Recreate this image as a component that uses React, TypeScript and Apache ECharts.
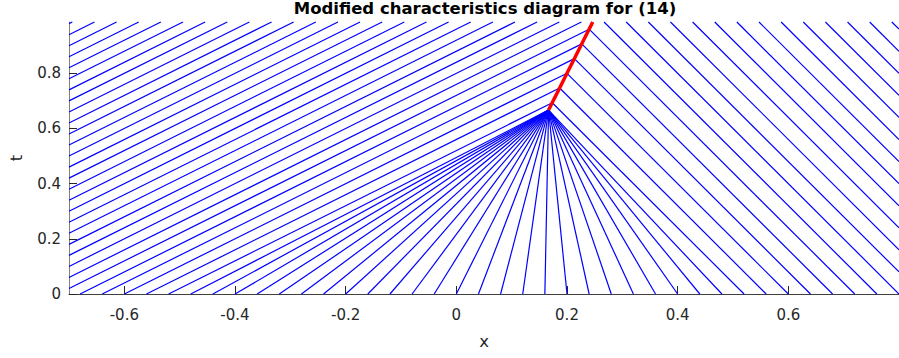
import React, { useEffect, useRef } from "react";
import * as echarts from "echarts";

// Axis ticks
const xTicks = [-0.6, -0.4, -0.2, 0, 0.2, 0.4, 0.6];
const tTicks = [0, 0.2, 0.4, 0.6, 0.8];
const X_MIN = -0.7;
const X_MAX = 0.8;
const T_MAX = 0.986;

// Starting points x0 (t = 0) of the characteristics
const leftStarts = [
  -1.68, -1.64, -1.6, -1.56, -1.52, -1.48, -1.44, -1.4, -1.36, -1.32,
  -1.28, -1.24, -1.2, -1.16, -1.12, -1.08, -1.04, -1.0, -0.96, -0.92,
  -0.88, -0.84, -0.8, -0.76, -0.72, -0.68, -0.64, -0.6, -0.56, -0.52,
];
const fanStarts = [
  -0.48, -0.44, -0.4, -0.36, -0.32, -0.28, -0.24, -0.2, -0.16, -0.12,
  -0.08, -0.04, 0, 0.04, 0.08, 0.12, 0.16, 0.2, 0.24, 0.28,
  0.32, 0.36, 0.4, 0.44, 0.48,
];
const rightStarts = [
  0.52, 0.56, 0.6, 0.64, 0.68, 0.72, 0.76, 0.8, 0.84, 0.88,
  0.92, 0.96, 1.0, 1.04, 1.08, 1.12, 1.16, 1.2, 1.24, 1.28, 1.32,
];

// Characteristic speeds (dx/dt) on each side
const leftSpeed = 1;
const rightSpeed = -0.5;

// Point where the fan collapses, and the shock path [x, t]
const fanApex = [0.1667, 0.6667];
const shockStart = [0.1667, 0.6667];
const shockEnd = [0.25, 1.0];
const tEnd = 1.0;

function endPoint(x0: number, s: number): number[] {
  const v = (shockEnd[0] - shockStart[0]) / (shockEnd[1] - shockStart[1]);
  const t = (shockStart[0] - v * shockStart[1] - x0) / (s - v);
  if (t >= shockStart[1] && t <= tEnd) return [x0 + s * t, t];
  return [x0 + s * tEnd, tEnd];
}

// Clip a segment to the visible axis window (Liang-Barsky)
function clipSeg(a: number[], b: number[]): number[][] | null {
  const dx = b[0] - a[0];
  const dy = b[1] - a[1];
  let u0 = 0;
  let u1 = 1;
  const p = [-dx, dx, -dy, dy];
  const q = [a[0] - X_MIN, X_MAX - a[0], a[1] - 0, T_MAX - a[1]];
  for (let i = 0; i < 4; i++) {
    if (p[i] === 0) {
      if (q[i] < 0) return null;
    } else {
      const r = q[i] / p[i];
      if (p[i] < 0) u0 = Math.max(u0, r);
      else u1 = Math.min(u1, r);
    }
  }
  if (u0 > u1) return null;
  return [
    [a[0] + u0 * dx, a[1] + u0 * dy],
    [a[0] + u1 * dx, a[1] + u1 * dy],
  ];
}

const FONT = "DejaVu Sans";
const AX = "#262626";
const BLUE = "#0000ff";

export default function App() {
  const ref = useRef<HTMLDivElement>(null);
  useEffect(() => {
    if (!ref.current) return;
    const chart = echarts.init(ref.current, undefined, { renderer: "svg" });

    const series: any[] = [];
    const add = (a: number[], b: number[], color: string, width: number, z = 2) => {
      const seg = clipSeg(a, b);
      if (!seg) return;
      series.push({
        type: "line",
        data: seg,
        color,
        showSymbol: false,
        symbol: "none",
        silent: true,
        clip: false,
        z,
        itemStyle: { color },
        lineStyle: { color, width, opacity: 1 },
        emphasis: { disabled: true },
      });
    };

    leftStarts.forEach((x0) => add([x0, 0], endPoint(x0, leftSpeed), BLUE, 1.2));
    fanStarts.forEach((x0) => add([x0, 0], fanApex.slice(), BLUE, 1.2));
    rightStarts.forEach((x0) => add([x0, 0], endPoint(x0, rightSpeed), BLUE, 1.2));
    add(shockStart.slice(), shockEnd.slice(), "#ff0000", 3.5, 3);

    const fmt = (v: number) => String(Number(v.toFixed(2)));

    chart.setOption({
      animation: false,
      color: [BLUE],
      title: {
        text: "Modified characteristics diagram for (14)",
        left: 485,
        top: 0,
        padding: 0,
        textAlign: "center",
        textStyle: { fontFamily: FONT, fontWeight: "bold", fontSize: 16.5, color: "#000" },
      },
      grid: { left: 68, top: 22, width: 833, height: 272 },
      xAxis: {
        type: "value",
        min: X_MIN,
        max: X_MAX,
        name: "x",
        nameLocation: "middle",
        nameGap: 39,
        nameTextStyle: { fontFamily: FONT, fontSize: 16.5, color: AX },
        axisLine: { show: true, onZero: false, lineStyle: { color: "#404040", width: 1 } },
        axisTick: { show: true, inside: true, length: 8, customValues: xTicks, lineStyle: { color: AX } },
        axisLabel: { customValues: xTicks, formatter: fmt, margin: 13, fontFamily: FONT, fontSize: 15, color: AX },
        splitLine: { show: false },
      },
      yAxis: {
        type: "value",
        min: 0,
        max: T_MAX,
        name: "t",
        nameLocation: "middle",
        nameGap: 44,
        nameTextStyle: { fontFamily: FONT, fontSize: 16.5, color: AX },
        axisLine: { show: true, onZero: false, lineStyle: { color: "#808080", width: 1 } },
        axisTick: { show: true, inside: true, length: 8, customValues: tTicks, lineStyle: { color: AX } },
        axisLabel: { customValues: tTicks, formatter: fmt, margin: 8, fontFamily: FONT, fontSize: 15, color: AX },
        splitLine: { show: false },
      },
      series,
    });
    return () => chart.dispose();
  }, []);
  return (
    <div
      ref={ref}
      style={{ position: "fixed", left: 0, top: 0, width: 899, height: 358, background: "#fff" }}
    />
  );
}
